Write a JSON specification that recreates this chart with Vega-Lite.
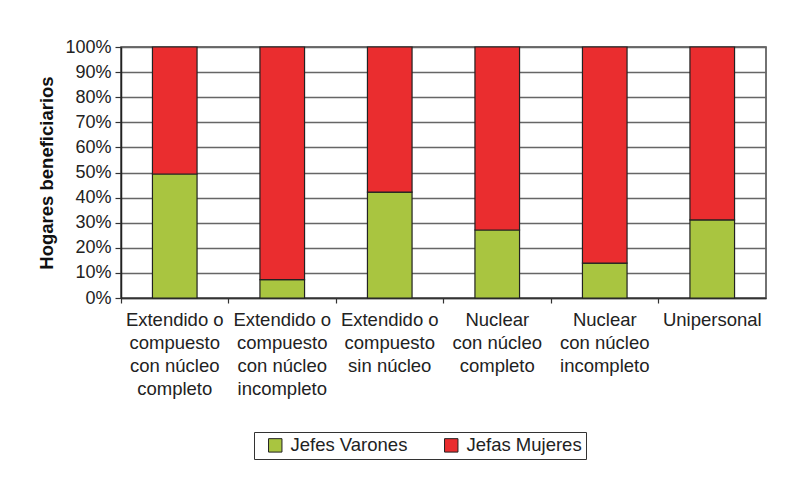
{
  "$schema": "https://vega.github.io/schema/vega-lite/v6.json",
  "autosize": {"type": "none"},
  "padding": {"left": 121, "top": 47, "right": 21, "bottom": 187},
  "width": 645,
  "height": 251,
  "background": "white",
  "config": {
    "font": "Liberation Sans",
    "view": {"stroke": "#444", "strokeWidth": 1.5}
  },
  "data": {
    "values": [
      {"tipo": "Extendido o compuesto con núcleo completo", "jefe": "Jefes Varones", "orden": 1, "pct": 0.494},
      {"tipo": "Extendido o compuesto con núcleo completo", "jefe": "Jefas Mujeres", "orden": 2, "pct": 0.506},
      {"tipo": "Extendido o compuesto con núcleo incompleto", "jefe": "Jefes Varones", "orden": 1, "pct": 0.073},
      {"tipo": "Extendido o compuesto con núcleo incompleto", "jefe": "Jefas Mujeres", "orden": 2, "pct": 0.927},
      {"tipo": "Extendido o compuesto sin núcleo", "jefe": "Jefes Varones", "orden": 1, "pct": 0.422},
      {"tipo": "Extendido o compuesto sin núcleo", "jefe": "Jefas Mujeres", "orden": 2, "pct": 0.578},
      {"tipo": "Nuclear con núcleo completo", "jefe": "Jefes Varones", "orden": 1, "pct": 0.271},
      {"tipo": "Nuclear con núcleo completo", "jefe": "Jefas Mujeres", "orden": 2, "pct": 0.729},
      {"tipo": "Nuclear con núcleo incompleto", "jefe": "Jefes Varones", "orden": 1, "pct": 0.139},
      {"tipo": "Nuclear con núcleo incompleto", "jefe": "Jefas Mujeres", "orden": 2, "pct": 0.861},
      {"tipo": "Unipersonal", "jefe": "Jefes Varones", "orden": 1, "pct": 0.311},
      {"tipo": "Unipersonal", "jefe": "Jefas Mujeres", "orden": 2, "pct": 0.689}
    ]
  },
  "mark": {"type": "bar", "width": {"band": 0.415}, "stroke": "#222", "strokeWidth": 1.2},
  "encoding": {
    "x": {
      "field": "tipo",
      "type": "nominal",
      "sort": null,
      "scale": {"paddingInner": 0, "paddingOuter": 0},
      "axis": {
        "title": null,
        "bandPosition": 0,
        "labelAngle": 0,
        "labelFontSize": 18.5,
        "labelColor": "#222",
        "labelLineHeight": 23,
        "labelPadding": 7,
        "labelBaseline": "top",
        "labelLimit": 200,
        "tickSize": 5,
        "tickColor": "#333",
        "tickWidth": 1.2,
        "domainColor": "#333",
        "domainWidth": 1.5,
        "labelExpr": "{'Extendido o compuesto con núcleo completo': ['Extendido o','compuesto','con núcleo','completo'], 'Extendido o compuesto con núcleo incompleto': ['Extendido o','compuesto','con núcleo','incompleto'], 'Extendido o compuesto sin núcleo': ['Extendido o','compuesto','sin núcleo'], 'Nuclear con núcleo completo': ['Nuclear','con núcleo','completo'], 'Nuclear con núcleo incompleto': ['Nuclear','con núcleo','incompleto'], 'Unipersonal': ['Unipersonal']}[datum.label]"
      }
    },
    "y": {
      "field": "pct",
      "type": "quantitative",
      "stack": "zero",
      "scale": {"domain": [0, 1], "nice": false},
      "axis": {
        "title": "Hogares beneficiarios",
        "titleFontSize": 18.5,
        "titleFontWeight": "bold",
        "titleColor": "#111",
        "titlePadding": 8,
        "values": [0, 0.1, 0.2, 0.3, 0.4, 0.5, 0.6, 0.7, 0.8, 0.9, 1],
        "format": ".0%",
        "labelFontSize": 18,
        "labelColor": "#222",
        "labelPadding": 4,
        "tickSize": 6,
        "tickColor": "#333",
        "tickWidth": 1.2,
        "domainColor": "#222",
        "domainWidth": 1.5,
        "grid": true,
        "gridColor": "#666",
        "gridWidth": 1.5
      }
    },
    "color": {
      "field": "jefe",
      "type": "nominal",
      "scale": {"domain": ["Jefes Varones", "Jefas Mujeres"], "range": ["#A9C540", "#EA2D2F"]},
      "legend": {
        "title": null,
        "orient": "none",
        "direction": "horizontal",
        "legendX": 133,
        "legendY": 385,
        "strokeColor": "#333",
        "padding": 4,
        "symbolType": "square",
        "symbolSize": 180,
        "symbolStrokeColor": "#222",
        "symbolStrokeWidth": 1,
        "symbolOpacity": 1,
        "symbolOffset": 8,
        "labelFontSize": 18.5,
        "labelColor": "#222",
        "labelOffset": 6,
        "columnPadding": 26
      }
    },
    "order": {"field": "orden", "type": "quantitative"}
  }
}
